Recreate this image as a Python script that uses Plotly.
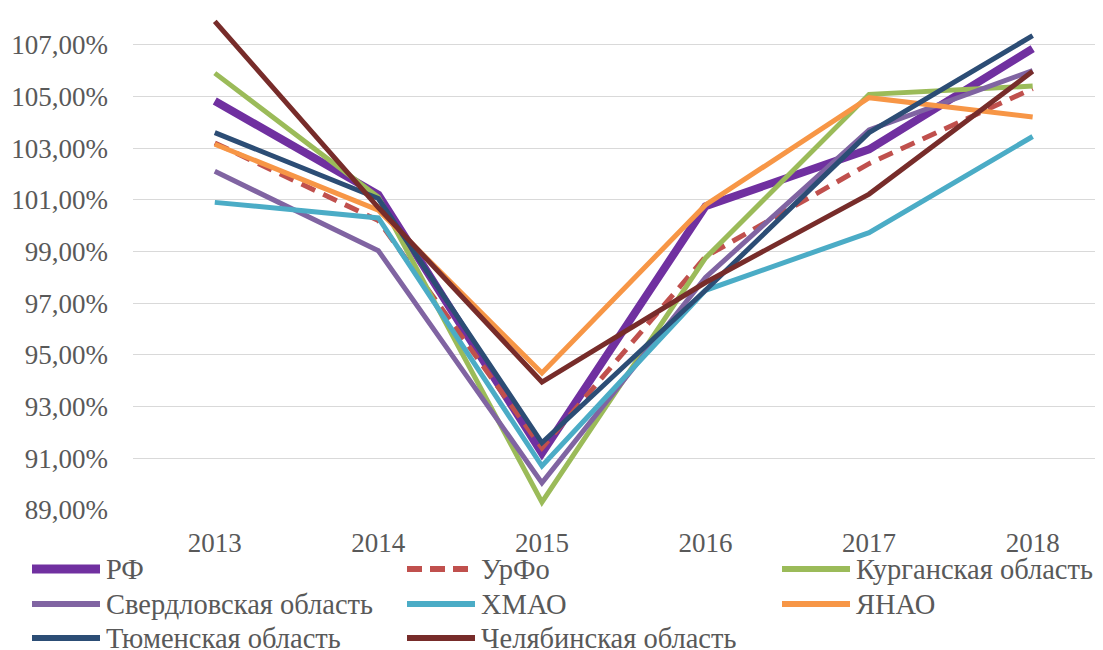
import plotly.graph_objects as go

years = ["2013", "2014", "2015", "2016", "2017", "2018"]

series_names = [
    "РФ", "УрФо", "Курганская область",
    "Свердловская область", "ХМАО", "ЯНАО",
    "Тюменская область", "Челябинская область",
]

rf = [104.82, 101.2, 91.2, 100.75, 102.95, 106.85]
urfo = [103.2, 100.2, 91.4, 98.8, 102.4, 105.3]
kurgan = [105.9, 101.1, 89.3, 98.75, 105.08, 105.4]
sverdl = [102.1, 99.03, 90.05, 98.0, 103.7, 106.0]
hmao = [100.9, 100.3, 90.7, 97.5, 99.73, 103.45]
yanao = [103.15, 100.6, 94.3, 100.8, 104.95, 104.2]
tyumen = [103.6, 101.05, 91.6, 97.5, 103.6, 107.35]
chelyab = [107.9, 100.7, 93.95, 97.8, 101.22, 105.97]

values = [rf, urfo, kurgan, sverdl, hmao, yanao, tyumen, chelyab]

colors = ["#7030A0", "#C0504D", "#9BBB59", "#8064A2",
          "#4BACC6", "#F79646", "#2C4D75", "#772C2A"]
widths = [8, 5, 5, 5, 5, 5, 5, 5]
dashes = ["solid", "15px,9px", "solid", "solid", "solid", "solid", "solid", "solid"]

y_tickvals = [89, 91, 93, 95, 97, 99, 101, 103, 105, 107]
y_ticktext = ["89,00%", "91,00%", "93,00%", "95,00%", "97,00%",
              "99,00%", "101,00%", "103,00%", "105,00%", "107,00%"]

# page has an 8px body margin; figure is sized to fill the rest of the window
OFF = 8
W, H = 1103 - OFF, 650 - OFF
ML, MR, MT, MB = 133 - OFF, 0, 0, 140
PW = W - ML - MR
PH = H - MT - MB

FONT = "Times New Roman, Liberation Serif, DejaVu Serif, serif"
TXT = "#595959"

fig = go.Figure()
for name, vals, c, w, d in zip(series_names, values, colors, widths, dashes):
    fig.add_trace(go.Scatter(
        x=years, y=vals, mode="lines", name=name,
        line=dict(color=c, width=w, dash=d),
        showlegend=False,
    ))

def px_x(px):
    return (px - OFF - ML) / PW

def px_y(py):
    return (H - MB - (py - OFF)) / PH

col_x = [32, 407, 782]
row_y = [569, 604, 638]
line_len = 68
shapes = []
annotations = []
for i, (name, c, w, d) in enumerate(zip(series_names, colors, widths, dashes)):
    r, col = divmod(i, 3)
    x0 = col_x[col]
    y0 = row_y[r]
    shapes.append(dict(
        type="line", xref="paper", yref="paper",
        x0=px_x(x0), x1=px_x(x0 + line_len), y0=px_y(y0), y1=px_y(y0),
        line=dict(color=c, width=w + 1,
                  dash=("15px,8px" if d != "solid" else "solid")),
    ))
    annotations.append(dict(
        xref="paper", yref="paper", x=px_x(x0 + line_len + 4), y=px_y(y0),
        text=name, showarrow=False, xanchor="left", yanchor="middle",
        font=dict(family=FONT, size=28.5, color=TXT),
    ))

fig.update_layout(
    width=W, height=H,
    margin=dict(l=ML, r=MR, t=MT, b=MB, autoexpand=False),
    paper_bgcolor="white", plot_bgcolor="white",
    font=dict(family=FONT, color=TXT),
    showlegend=False,
    shapes=shapes,
    annotations=annotations,
    xaxis=dict(
        type="category", range=[-0.5, 5.43],
        showgrid=False, zeroline=False, showline=False,
        ticks="", tickfont=dict(family=FONT, size=27, color=TXT),
        ticklabelstandoff=14,
    ),
    yaxis=dict(
        range=[89, 89 + PH / 25.85],
        tickvals=y_tickvals, ticktext=y_ticktext,
        showgrid=True, gridcolor="#D9D9D9", gridwidth=1.3,
        zeroline=False, showline=False, ticks="",
        tickfont=dict(family=FONT, size=27, color=TXT),
        ticklabelstandoff=24,
    ),
)

fig.write_html("out.html")
